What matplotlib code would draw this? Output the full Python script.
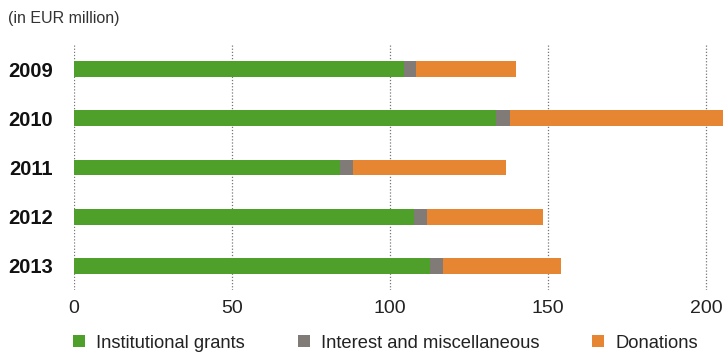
import matplotlib.pyplot as plt
from matplotlib.patches import Patch

# data (EUR million)
years = ["2009", "2010", "2011", "2012", "2013"]
grants = [104.4, 133.4, 84.2, 107.6, 112.6]
interest = [3.8, 4.6, 4.1, 4.1, 4.2]
donations = [31.7, 69.0, 48.4, 36.7, 37.3]
series_names = ["Institutional grants", "Interest and miscellaneous", "Donations"]
xticks = [0, 50, 100, 150, 200]

colors = ["#4fa02a", "#817b77", "#e68632"]

plt.rcParams["font.family"] = ["Liberation Sans", "DejaVu Sans"]

fig = plt.figure(figsize=(7.23, 3.52), dpi=100)
ax = fig.add_axes([74 / 723, 1 - 290 / 352, 1 - 74 / 723, 245 / 352])

ypos = list(range(len(years)))
left = [0] * len(years)
for vals, col in zip([grants, interest, donations], colors):
    ax.barh(ypos, vals, left=left, height=0.32, color=col, zorder=3)
    left = [l + v for l, v in zip(left, vals)]

ax.set_ylim(4.49, -0.49)
ax.set_xlim(0, 205.4)
ax.set_xticks(xticks)
ax.set_xticklabels([str(t) for t in xticks], fontsize=14, color="#222222")
ax.set_yticks(ypos)
ax.set_yticklabels(years, fontsize=14.5, fontweight="bold", color="#111111")
ax.tick_params(axis="both", length=0)
ax.tick_params(axis="y", pad=15)
ax.tick_params(axis="x", pad=7)

for t in xticks:
    ax.axvline(t, color="#777777", linestyle=(0, (1, 1.5)), linewidth=0.9, zorder=1)

for s in ax.spines.values():
    s.set_visible(False)

fig.text(8 / 723, 1 - 18 / 352, "(in EUR million)", fontsize=11.5,
         color="#333333", va="center", ha="left")

# legend row along the bottom
handles = [Patch(facecolor=c, edgecolor="none") for c in colors]
fig.legend(handles, series_names, loc="center left",
           bbox_to_anchor=(73 / 723, 1 - 343 / 352),
           ncol=3, frameon=False, fontsize=13.2, handlelength=0.65, handleheight=0.65,
           handletextpad=0.6, columnspacing=2.9, borderpad=0, borderaxespad=0,
           labelcolor="#222222")

fig.savefig("out.png", dpi=100)
